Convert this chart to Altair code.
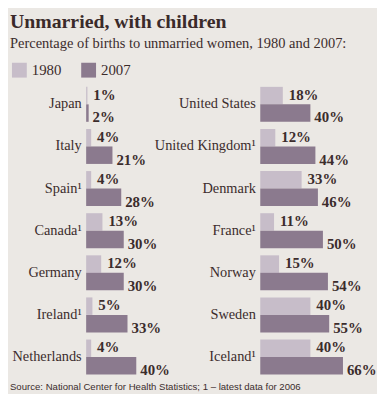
import altair as alt
import pandas as pd

left_countries = ["Japan", "Italy", "Spain¹", "Canada¹", "Germany", "Ireland¹", "Netherlands"]
left_1980 = [1, 4, 4, 13, 12, 5, 4]
left_2007 = [2, 21, 28, 30, 30, 33, 40]

right_countries = ["United States", "United Kingdom¹", "Denmark", "France¹", "Norway", "Sweden", "Iceland¹"]
right_1980 = [18, 12, 33, 11, 15, 40, 40]
right_2007 = [40, 44, 46, 50, 54, 55, 66]

years = ["1980", "2007"]
colors = ["#c7bdc9", "#8b7a8e"]

title = "Unmarried, with children"
subtitle = "Percentage of births to unmarried women, 1980 and 2007:"
source = "Source: National Center for Health Statistics; 1 – latest data for 2006"

TXT = "#3b2c2c"
SERIF = "Liberation Serif"


def make_df(countries, v1980, v2007):
    rows = []
    for c, a, b in zip(countries, v1980, v2007):
        rows.append({"country": c, "year": "1980", "value": a, "label": f"{a}%"})
        rows.append({"country": c, "year": "2007", "value": b, "label": f"{b}%"})
    return pd.DataFrame(rows)


def panel(df, countries, with_source=False):
    base = alt.Chart(df).encode(
        y=alt.Y(
            "country:N",
            sort=countries,
            scale=alt.Scale(paddingInner=0.17, paddingOuter=0.085),
            axis=alt.Axis(
                title=None, domain=False, ticks=False, labelPadding=5,
                labelFont=SERIF, labelFontSize=14.5, labelColor=TXT, labelLimit=200,
            ),
        ),
        yOffset=alt.YOffset("year:N", sort=years, scale=alt.Scale(paddingInner=0, paddingOuter=0)),
    )
    x = alt.X("value:Q", scale=alt.Scale(domain=[0, 75]), axis=None)
    bars = base.mark_bar().encode(
        x=x,
        color=alt.Color(
            "year:N",
            sort=years,
            scale=alt.Scale(domain=years, range=colors),
            legend=alt.Legend(
                title=None, orient="none", direction="horizontal",
                legendX=-75, legendY=-21, symbolType="square", symbolSize=225,
                symbolStrokeWidth=0, symbolOpacity=1, labelOffset=5,
                labelFont=SERIF, labelFontSize=15, labelColor=TXT, columnPadding=20,
            ),
        ),
    )
    t1 = base.transform_filter(alt.datum.year == "1980").mark_text(
        align="left", baseline="middle", dx=6, dy=-1,
        font=SERIF, fontWeight="bold", fontSize=15, color=TXT,
    ).encode(x=x, text="label:N")
    t2 = base.transform_filter(alt.datum.year == "2007").mark_text(
        align="left", baseline="middle", dx=4, dy=4.5,
        font=SERIF, fontWeight="bold", fontSize=15, color=TXT,
    ).encode(x=x, text="label:N")
    layers = [bars, t1, t2]
    if with_source:
        src = alt.Chart(pd.DataFrame({"t": [source]})).mark_text(
            align="left", baseline="alphabetic", font="Liberation Sans", fontSize=9.7, color=TXT,
        ).encode(text="t:N", x=alt.value(-77), y=alt.value(310))
        layers.append(src)
    return alt.layer(*layers).properties(width=95, height=298)


left = panel(make_df(left_countries, left_1980, left_2007), left_countries, with_source=True)
right = panel(make_df(right_countries, right_1980, right_2007), right_countries)

chart = alt.hconcat(left, right, spacing=81, bounds="flush").properties(
    title=alt.TitleParams(
        title, subtitle=subtitle, anchor="start", font=SERIF, fontSize=20, fontWeight="bold",
        color="#3a2a2a", subtitleFont=SERIF, subtitleFontSize=14.6, subtitleColor=TXT,
        offset=12, subtitlePadding=4,
    ),
    padding={"left": 2, "top": 2, "right": 0, "bottom": 0},
).configure(background="#ebe8e4").configure_view(stroke=None)

chart.save("out.html", embed_options={"renderer": "svg", "actions": False})
